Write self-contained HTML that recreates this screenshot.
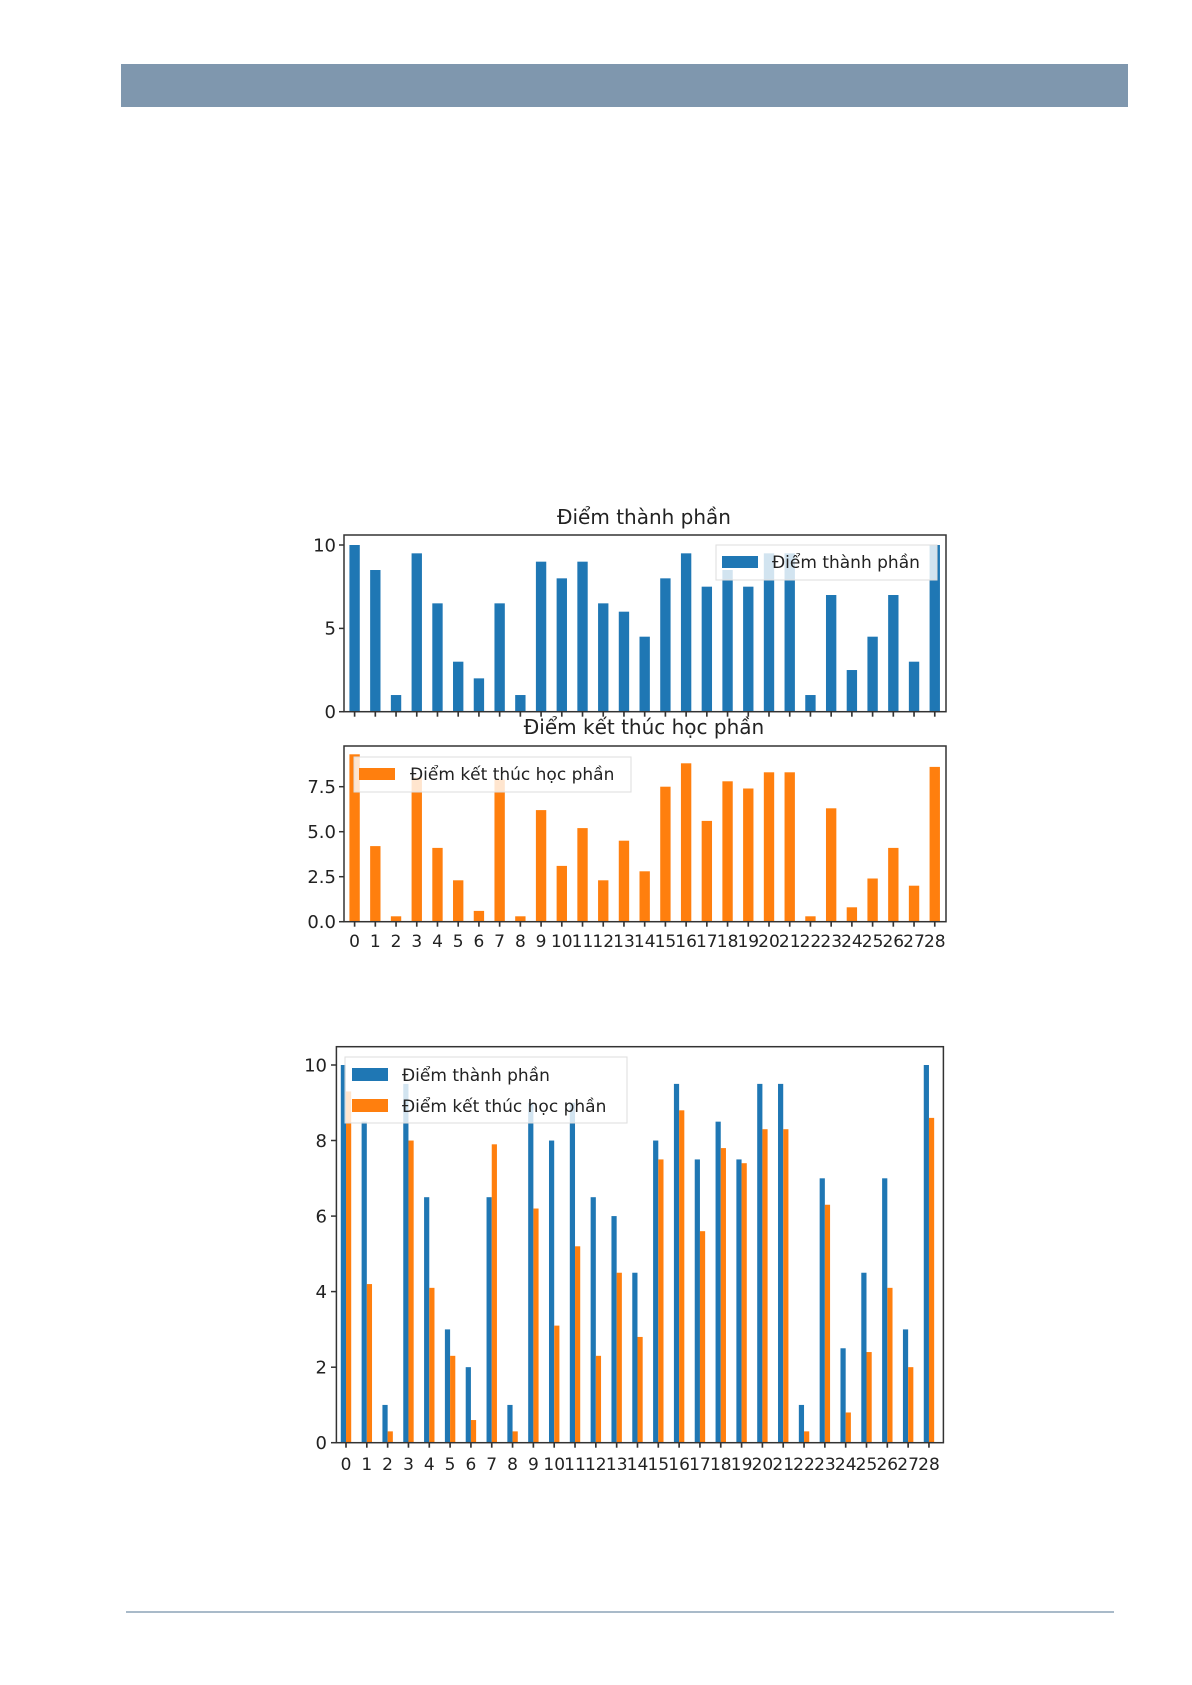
<!DOCTYPE html>
<html><head><meta charset="utf-8"><style>
html,body{margin:0;padding:0;background:#fff;}
svg{display:block;}
text{font-family:"DejaVu Sans","Liberation Sans",sans-serif;fill:#222;}
</style></head><body>
<svg width="1192" height="1685" viewBox="0 0 1192 1685" xmlns="http://www.w3.org/2000/svg">
<rect x="121" y="64" width="1007" height="43" fill="#7f97ae"/>
<rect x="126" y="1611" width="988" height="2" fill="#a9bac9"/>

<!-- Chart 1 -->
<text x="644" y="524" font-size="20" text-anchor="middle">Điểm thành phần</text>
<g transform="translate(354.6,711.7) scale(20.72,-16.67)" fill="#1f77b4">
<rect x="-0.25" width="0.5" height="10"/><rect x="0.75" width="0.5" height="8.5"/><rect x="1.75" width="0.5" height="1"/><rect x="2.75" width="0.5" height="9.5"/><rect x="3.75" width="0.5" height="6.5"/><rect x="4.75" width="0.5" height="3"/><rect x="5.75" width="0.5" height="2"/><rect x="6.75" width="0.5" height="6.5"/><rect x="7.75" width="0.5" height="1"/><rect x="8.75" width="0.5" height="9"/><rect x="9.75" width="0.5" height="8"/><rect x="10.75" width="0.5" height="9"/><rect x="11.75" width="0.5" height="6.5"/><rect x="12.75" width="0.5" height="6"/><rect x="13.75" width="0.5" height="4.5"/><rect x="14.75" width="0.5" height="8"/><rect x="15.75" width="0.5" height="9.5"/><rect x="16.75" width="0.5" height="7.5"/><rect x="17.75" width="0.5" height="8.5"/><rect x="18.75" width="0.5" height="7.5"/><rect x="19.75" width="0.5" height="9.5"/><rect x="20.75" width="0.5" height="9.5"/><rect x="21.75" width="0.5" height="1"/><rect x="22.75" width="0.5" height="7"/><rect x="23.75" width="0.5" height="2.5"/><rect x="24.75" width="0.5" height="4.5"/><rect x="25.75" width="0.5" height="7"/><rect x="26.75" width="0.5" height="3"/><rect x="27.75" width="0.5" height="10"/>
</g>
<g transform="translate(354.6,711.7) scale(20.72,1)" fill="#333">
<rect x="-0.04" y="0" width="0.08" height="5"/><rect x="0.96" width="0.08" height="5"/><rect x="1.96" width="0.08" height="5"/><rect x="2.96" width="0.08" height="5"/><rect x="3.96" width="0.08" height="5"/><rect x="4.96" width="0.08" height="5"/><rect x="5.96" width="0.08" height="5"/><rect x="6.96" width="0.08" height="5"/><rect x="7.96" width="0.08" height="5"/><rect x="8.96" width="0.08" height="5"/><rect x="9.96" width="0.08" height="5"/><rect x="10.96" width="0.08" height="5"/><rect x="11.96" width="0.08" height="5"/><rect x="12.96" width="0.08" height="5"/><rect x="13.96" width="0.08" height="5"/><rect x="14.96" width="0.08" height="5"/><rect x="15.96" width="0.08" height="5"/><rect x="16.96" width="0.08" height="5"/><rect x="17.96" width="0.08" height="5"/><rect x="18.96" width="0.08" height="5"/><rect x="19.96" width="0.08" height="5"/><rect x="20.96" width="0.08" height="5"/><rect x="21.96" width="0.08" height="5"/><rect x="22.96" width="0.08" height="5"/><rect x="23.96" width="0.08" height="5"/><rect x="24.96" width="0.08" height="5"/><rect x="25.96" width="0.08" height="5"/><rect x="26.96" width="0.08" height="5"/><rect x="27.96" width="0.08" height="5"/>
</g>
<rect x="344" y="535" width="602" height="176.7" fill="none" stroke="#333" stroke-width="1.5"/>
<g stroke="#333" stroke-width="1.5"><line x1="339" y1="711.7" x2="344" y2="711.7"/><line x1="339" y1="628.4" x2="344" y2="628.4"/><line x1="339" y1="545" x2="344" y2="545"/></g>
<g font-size="18" text-anchor="end"><text x="336" y="718">0</text><text x="336" y="634.7">5</text><text x="336" y="551.3">10</text></g>
<rect x="716" y="545" width="221" height="35" fill="#fff" fill-opacity="0.8" stroke="#ddd"/>
<rect x="722" y="556" width="36" height="12" fill="#1f77b4"/>
<text x="772" y="568" font-size="17">Điểm thành phần</text>

<!-- Chart 2 -->
<text x="644" y="734" font-size="20" text-anchor="middle">Điểm kết thúc học phần</text>
<g transform="translate(354.6,921.7) scale(20.72,-18)" fill="#ff7f0e">
<rect x="-0.25" width="0.5" height="9.3"/><rect x="0.75" width="0.5" height="4.2"/><rect x="1.75" width="0.5" height="0.3"/><rect x="2.75" width="0.5" height="8"/><rect x="3.75" width="0.5" height="4.1"/><rect x="4.75" width="0.5" height="2.3"/><rect x="5.75" width="0.5" height="0.6"/><rect x="6.75" width="0.5" height="7.9"/><rect x="7.75" width="0.5" height="0.3"/><rect x="8.75" width="0.5" height="6.2"/><rect x="9.75" width="0.5" height="3.1"/><rect x="10.75" width="0.5" height="5.2"/><rect x="11.75" width="0.5" height="2.3"/><rect x="12.75" width="0.5" height="4.5"/><rect x="13.75" width="0.5" height="2.8"/><rect x="14.75" width="0.5" height="7.5"/><rect x="15.75" width="0.5" height="8.8"/><rect x="16.75" width="0.5" height="5.6"/><rect x="17.75" width="0.5" height="7.8"/><rect x="18.75" width="0.5" height="7.4"/><rect x="19.75" width="0.5" height="8.3"/><rect x="20.75" width="0.5" height="8.3"/><rect x="21.75" width="0.5" height="0.3"/><rect x="22.75" width="0.5" height="6.3"/><rect x="23.75" width="0.5" height="0.8"/><rect x="24.75" width="0.5" height="2.4"/><rect x="25.75" width="0.5" height="4.1"/><rect x="26.75" width="0.5" height="2"/><rect x="27.75" width="0.5" height="8.6"/>
</g>
<g transform="translate(354.6,921.7) scale(20.72,1)" fill="#333">
<rect x="-0.04" y="0" width="0.08" height="5"/><rect x="0.96" width="0.08" height="5"/><rect x="1.96" width="0.08" height="5"/><rect x="2.96" width="0.08" height="5"/><rect x="3.96" width="0.08" height="5"/><rect x="4.96" width="0.08" height="5"/><rect x="5.96" width="0.08" height="5"/><rect x="6.96" width="0.08" height="5"/><rect x="7.96" width="0.08" height="5"/><rect x="8.96" width="0.08" height="5"/><rect x="9.96" width="0.08" height="5"/><rect x="10.96" width="0.08" height="5"/><rect x="11.96" width="0.08" height="5"/><rect x="12.96" width="0.08" height="5"/><rect x="13.96" width="0.08" height="5"/><rect x="14.96" width="0.08" height="5"/><rect x="15.96" width="0.08" height="5"/><rect x="16.96" width="0.08" height="5"/><rect x="17.96" width="0.08" height="5"/><rect x="18.96" width="0.08" height="5"/><rect x="19.96" width="0.08" height="5"/><rect x="20.96" width="0.08" height="5"/><rect x="21.96" width="0.08" height="5"/><rect x="22.96" width="0.08" height="5"/><rect x="23.96" width="0.08" height="5"/><rect x="24.96" width="0.08" height="5"/><rect x="25.96" width="0.08" height="5"/><rect x="26.96" width="0.08" height="5"/><rect x="27.96" width="0.08" height="5"/>
</g>
<rect x="344" y="746" width="602" height="175.7" fill="none" stroke="#333" stroke-width="1.5"/>
<g stroke="#333" stroke-width="1.5"><line x1="339" y1="921.7" x2="344" y2="921.7"/><line x1="339" y1="876.7" x2="344" y2="876.7"/><line x1="339" y1="831.7" x2="344" y2="831.7"/><line x1="339" y1="786.7" x2="344" y2="786.7"/></g>
<g font-size="18" text-anchor="end"><text x="336" y="928">0.0</text><text x="336" y="883">2.5</text><text x="336" y="838">5.0</text><text x="336" y="793">7.5</text></g>
<rect x="354" y="757" width="277" height="35" fill="#fff" fill-opacity="0.8" stroke="#ddd"/>
<rect x="359" y="768" width="36" height="12" fill="#ff7f0e"/>
<text x="410" y="780" font-size="17">Điểm kết thúc học phần</text>
<g font-size="17" text-anchor="middle">
<text x="354.6" y="947">0</text><text x="375.3" y="947">1</text><text x="396.0" y="947">2</text><text x="416.8" y="947">3</text><text x="437.5" y="947">4</text><text x="458.2" y="947">5</text><text x="478.9" y="947">6</text><text x="499.6" y="947">7</text><text x="520.4" y="947">8</text><text x="541.1" y="947">9</text><text x="561.8" y="947">10</text><text x="582.5" y="947">11</text><text x="603.2" y="947">12</text><text x="624.0" y="947">13</text><text x="644.7" y="947">14</text><text x="665.4" y="947">15</text><text x="686.1" y="947">16</text><text x="706.8" y="947">17</text><text x="727.6" y="947">18</text><text x="748.3" y="947">19</text><text x="769.0" y="947">20</text><text x="789.7" y="947">21</text><text x="810.4" y="947">22</text><text x="831.2" y="947">23</text><text x="851.9" y="947">24</text><text x="872.6" y="947">25</text><text x="893.3" y="947">26</text><text x="914.0" y="947">27</text><text x="934.8" y="947">28</text>
</g>

<!-- Chart 3 -->
<g transform="translate(346,1442.7) scale(20.82,-37.77)">
<g fill="#1f77b4">
<rect x="-0.25" width="0.25" height="10"/><rect x="0.75" width="0.25" height="8.5"/><rect x="1.75" width="0.25" height="1"/><rect x="2.75" width="0.25" height="9.5"/><rect x="3.75" width="0.25" height="6.5"/><rect x="4.75" width="0.25" height="3"/><rect x="5.75" width="0.25" height="2"/><rect x="6.75" width="0.25" height="6.5"/><rect x="7.75" width="0.25" height="1"/><rect x="8.75" width="0.25" height="9"/><rect x="9.75" width="0.25" height="8"/><rect x="10.75" width="0.25" height="9"/><rect x="11.75" width="0.25" height="6.5"/><rect x="12.75" width="0.25" height="6"/><rect x="13.75" width="0.25" height="4.5"/><rect x="14.75" width="0.25" height="8"/><rect x="15.75" width="0.25" height="9.5"/><rect x="16.75" width="0.25" height="7.5"/><rect x="17.75" width="0.25" height="8.5"/><rect x="18.75" width="0.25" height="7.5"/><rect x="19.75" width="0.25" height="9.5"/><rect x="20.75" width="0.25" height="9.5"/><rect x="21.75" width="0.25" height="1"/><rect x="22.75" width="0.25" height="7"/><rect x="23.75" width="0.25" height="2.5"/><rect x="24.75" width="0.25" height="4.5"/><rect x="25.75" width="0.25" height="7"/><rect x="26.75" width="0.25" height="3"/><rect x="27.75" width="0.25" height="10"/>
</g>
<g fill="#ff7f0e">
<rect x="0" width="0.25" height="9.3"/><rect x="1" width="0.25" height="4.2"/><rect x="2" width="0.25" height="0.3"/><rect x="3" width="0.25" height="8"/><rect x="4" width="0.25" height="4.1"/><rect x="5" width="0.25" height="2.3"/><rect x="6" width="0.25" height="0.6"/><rect x="7" width="0.25" height="7.9"/><rect x="8" width="0.25" height="0.3"/><rect x="9" width="0.25" height="6.2"/><rect x="10" width="0.25" height="3.1"/><rect x="11" width="0.25" height="5.2"/><rect x="12" width="0.25" height="2.3"/><rect x="13" width="0.25" height="4.5"/><rect x="14" width="0.25" height="2.8"/><rect x="15" width="0.25" height="7.5"/><rect x="16" width="0.25" height="8.8"/><rect x="17" width="0.25" height="5.6"/><rect x="18" width="0.25" height="7.8"/><rect x="19" width="0.25" height="7.4"/><rect x="20" width="0.25" height="8.3"/><rect x="21" width="0.25" height="8.3"/><rect x="22" width="0.25" height="0.3"/><rect x="23" width="0.25" height="6.3"/><rect x="24" width="0.25" height="0.8"/><rect x="25" width="0.25" height="2.4"/><rect x="26" width="0.25" height="4.1"/><rect x="27" width="0.25" height="2"/><rect x="28" width="0.25" height="8.6"/>
</g>
</g>
<g transform="translate(346,1442.7) scale(20.82,1)" fill="#333">
<rect x="-0.04" y="0" width="0.08" height="5"/><rect x="0.96" width="0.08" height="5"/><rect x="1.96" width="0.08" height="5"/><rect x="2.96" width="0.08" height="5"/><rect x="3.96" width="0.08" height="5"/><rect x="4.96" width="0.08" height="5"/><rect x="5.96" width="0.08" height="5"/><rect x="6.96" width="0.08" height="5"/><rect x="7.96" width="0.08" height="5"/><rect x="8.96" width="0.08" height="5"/><rect x="9.96" width="0.08" height="5"/><rect x="10.96" width="0.08" height="5"/><rect x="11.96" width="0.08" height="5"/><rect x="12.96" width="0.08" height="5"/><rect x="13.96" width="0.08" height="5"/><rect x="14.96" width="0.08" height="5"/><rect x="15.96" width="0.08" height="5"/><rect x="16.96" width="0.08" height="5"/><rect x="17.96" width="0.08" height="5"/><rect x="18.96" width="0.08" height="5"/><rect x="19.96" width="0.08" height="5"/><rect x="20.96" width="0.08" height="5"/><rect x="21.96" width="0.08" height="5"/><rect x="22.96" width="0.08" height="5"/><rect x="23.96" width="0.08" height="5"/><rect x="24.96" width="0.08" height="5"/><rect x="25.96" width="0.08" height="5"/><rect x="26.96" width="0.08" height="5"/><rect x="27.96" width="0.08" height="5"/>
</g>
<rect x="336.4" y="1046.7" width="607" height="396" fill="none" stroke="#333" stroke-width="1.5"/>
<g stroke="#333" stroke-width="1.5"><line x1="331" y1="1442.7" x2="336.4" y2="1442.7"/><line x1="331" y1="1367.2" x2="336.4" y2="1367.2"/><line x1="331" y1="1291.6" x2="336.4" y2="1291.6"/><line x1="331" y1="1216.1" x2="336.4" y2="1216.1"/><line x1="331" y1="1140.5" x2="336.4" y2="1140.5"/><line x1="331" y1="1065" x2="336.4" y2="1065"/></g>
<g font-size="18" text-anchor="end"><text x="327" y="1449">0</text><text x="327" y="1373.5">2</text><text x="327" y="1298">4</text><text x="327" y="1222.4">6</text><text x="327" y="1146.8">8</text><text x="327" y="1071.3">10</text></g>
<rect x="345" y="1057" width="282" height="66" fill="#fff" fill-opacity="0.8" stroke="#ddd"/>
<rect x="352" y="1068" width="36" height="13" fill="#1f77b4"/>
<text x="402" y="1081" font-size="17">Điểm thành phần</text>
<rect x="352" y="1099" width="36" height="13" fill="#ff7f0e"/>
<text x="402" y="1112" font-size="17">Điểm kết thúc học phần</text>
<g font-size="17" text-anchor="middle">
<text x="346" y="1470">0</text><text x="366.8" y="1470">1</text><text x="387.6" y="1470">2</text><text x="408.5" y="1470">3</text><text x="429.3" y="1470">4</text><text x="450.1" y="1470">5</text><text x="470.9" y="1470">6</text><text x="491.7" y="1470">7</text><text x="512.6" y="1470">8</text><text x="533.4" y="1470">9</text><text x="554.2" y="1470">10</text><text x="575.0" y="1470">11</text><text x="595.8" y="1470">12</text><text x="616.7" y="1470">13</text><text x="637.5" y="1470">14</text><text x="658.3" y="1470">15</text><text x="679.1" y="1470">16</text><text x="699.9" y="1470">17</text><text x="720.8" y="1470">18</text><text x="741.6" y="1470">19</text><text x="762.4" y="1470">20</text><text x="783.2" y="1470">21</text><text x="804.0" y="1470">22</text><text x="824.9" y="1470">23</text><text x="845.7" y="1470">24</text><text x="866.5" y="1470">25</text><text x="887.3" y="1470">26</text><text x="908.1" y="1470">27</text><text x="929.0" y="1470">28</text>
</g>
</svg>
</body></html>
